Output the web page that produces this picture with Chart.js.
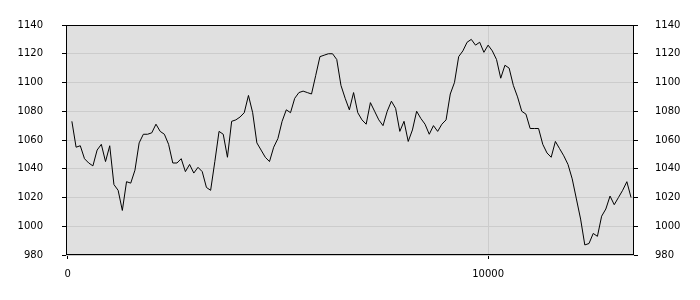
<!DOCTYPE html>
<html>
<head>
  <meta charset="UTF-8">
  <title>Line chart</title>
  <script src="https://cdn.jsdelivr.net/npm/chart.js"></script>
  <style>
    html, body { margin: 0; padding: 0; background: #ffffff; }
    #wrap { width: 700px; height: 300px; }
  </style>
</head>
<body>
  <div id="wrap"><canvas id="chart" width="700" height="300"></canvas></div>

  <script>
    // x positions of the samples
    const xValues = [
      100, 200, 300, 400, 500, 600, 700, 800, 900, 1000,
      1100, 1200, 1300, 1400, 1500, 1600, 1700, 1800, 1900, 2000,
      2100, 2200, 2300, 2400, 2500, 2600, 2700, 2800, 2900, 3000,
      3100, 3200, 3300, 3400, 3500, 3600, 3700, 3800, 3900, 4000,
      4100, 4200, 4300, 4400, 4500, 4600, 4700, 4800, 4900, 5000,
      5100, 5200, 5300, 5400, 5500, 5600, 5700, 5800, 5900, 6000,
      6100, 6200, 6300, 6400, 6500, 6600, 6700, 6800, 6900, 7000,
      7100, 7200, 7300, 7400, 7500, 7600, 7700, 7800, 7900, 8000,
      8100, 8200, 8300, 8400, 8500, 8600, 8700, 8800, 8900, 9000,
      9100, 9200, 9300, 9400, 9500, 9600, 9700, 9800, 9900, 10000,
      10100, 10200, 10300, 10400, 10500, 10600, 10700, 10800, 10900, 11000,
      11100, 11200, 11300, 11400, 11500, 11600, 11700, 11800, 11900, 12000,
      12100, 12200, 12300, 12400, 12500, 12600, 12700, 12800, 12900, 13000,
      13100, 13200, 13300, 13400
    ];

    // series values
    const yValues = [
      1073, 1055, 1056, 1047, 1044, 1042, 1053, 1057, 1045, 1056,
      1029, 1025, 1011, 1031, 1030, 1039, 1058, 1064, 1064, 1065,
      1071, 1066, 1064, 1057, 1044, 1044, 1047, 1038, 1043, 1037,
      1041, 1038, 1027, 1025, 1045, 1066, 1064, 1048, 1073, 1074,
      1076, 1079, 1091, 1079, 1058, 1053, 1048, 1045, 1055, 1061,
      1073, 1081, 1079, 1089, 1093, 1094, 1093, 1092, 1105, 1118,
      1119, 1120, 1120, 1116, 1098, 1089, 1081, 1093, 1079, 1074,
      1071, 1086, 1080, 1074, 1070, 1080, 1087, 1082, 1066, 1073,
      1059, 1067, 1080, 1075, 1071, 1064, 1070, 1066, 1071, 1074,
      1092, 1100, 1118, 1122, 1128, 1130, 1126, 1128, 1121, 1126,
      1122, 1116, 1103, 1112, 1110, 1098, 1090, 1080, 1078, 1068,
      1068, 1068, 1057, 1051, 1048, 1059, 1054, 1049, 1043, 1033,
      1019, 1005, 987, 988, 995, 993, 1007, 1012, 1021, 1015,
      1020, 1025, 1031, 1020
    ];

    // tick labels
    const xTicks = [0, 10000];
    const yTicks = [980, 1000, 1020, 1040, 1060, 1080, 1100, 1120, 1140];

    const points = xValues.map((x, i) => ({ x: x, y: yValues[i] }));
    const tickFont = { family: 'DejaVu Sans', size: 10 };
    const plainLabel = (v) => String(v);

    // grey plot background and black frame
    const plotFrame = {
      id: 'plotFrame',
      beforeDraw(chart) {
        const a = chart.chartArea;
        const ctx = chart.ctx;
        ctx.save();
        ctx.fillStyle = '#e0e0e0';
        ctx.fillRect(a.left, a.top, a.right - a.left, a.bottom - a.top);
        ctx.restore();
      },
      afterDraw(chart) {
        const a = chart.chartArea;
        const ctx = chart.ctx;
        ctx.save();
        ctx.strokeStyle = '#000000';
        ctx.lineWidth = 1;
        ctx.strokeRect(a.left + 0.5, a.top + 0.5, a.right - a.left - 1, a.bottom - a.top - 1);
        ctx.restore();
      }
    };

    new Chart(document.getElementById('chart'), {
      type: 'line',
      data: {
        datasets: [{
          data: points,
          borderColor: '#000000',
          borderWidth: 1,
          pointRadius: 0,
          tension: 0,
          fill: false
        }]
      },
      options: {
        responsive: false,
        animation: false,
        events: [],
        layout: { padding: { top: 10, left: 0, right: 0, bottom: 0 } },
        plugins: {
          legend: { display: false },
          tooltip: { enabled: false }
        },
        scales: {
          x: {
            type: 'linear',
            min: -40,
            max: 13470,
            afterBuildTicks: (s) => { s.ticks = xTicks.map(v => ({ value: v })); },
            afterFit: (s) => { s.height = 45; },
            ticks: { color: '#000000', font: tickFont, padding: 9, maxRotation: 0, callback: plainLabel },
            grid: {
              color: (c) => (c.tick && c.tick.value === 0) ? 'rgba(0,0,0,0)' : '#cccccc',
              tickColor: '#000000',
              tickLength: 4
            },
            border: { display: false }
          },
          y: {
            position: 'left',
            min: 980,
            max: 1140,
            afterBuildTicks: (s) => { s.ticks = yTicks.map(v => ({ value: v })); },
            afterFit: (s) => { s.width = 66; },
            ticks: { color: '#000000', font: tickFont, padding: 19, callback: plainLabel },
            grid: { color: '#cccccc', tickColor: '#000000', tickLength: 4 },
            border: { display: false }
          },
          y2: {
            position: 'right',
            min: 980,
            max: 1140,
            afterBuildTicks: (s) => { s.ticks = yTicks.map(v => ({ value: v })); },
            afterFit: (s) => { s.width = 66; },
            ticks: { color: '#000000', font: tickFont, padding: 17, callback: plainLabel },
            grid: { drawOnChartArea: false, tickColor: '#000000', tickLength: 4 },
            border: { display: false }
          }
        }
      },
      plugins: [plotFrame]
    });
  </script>
</body>
</html>
